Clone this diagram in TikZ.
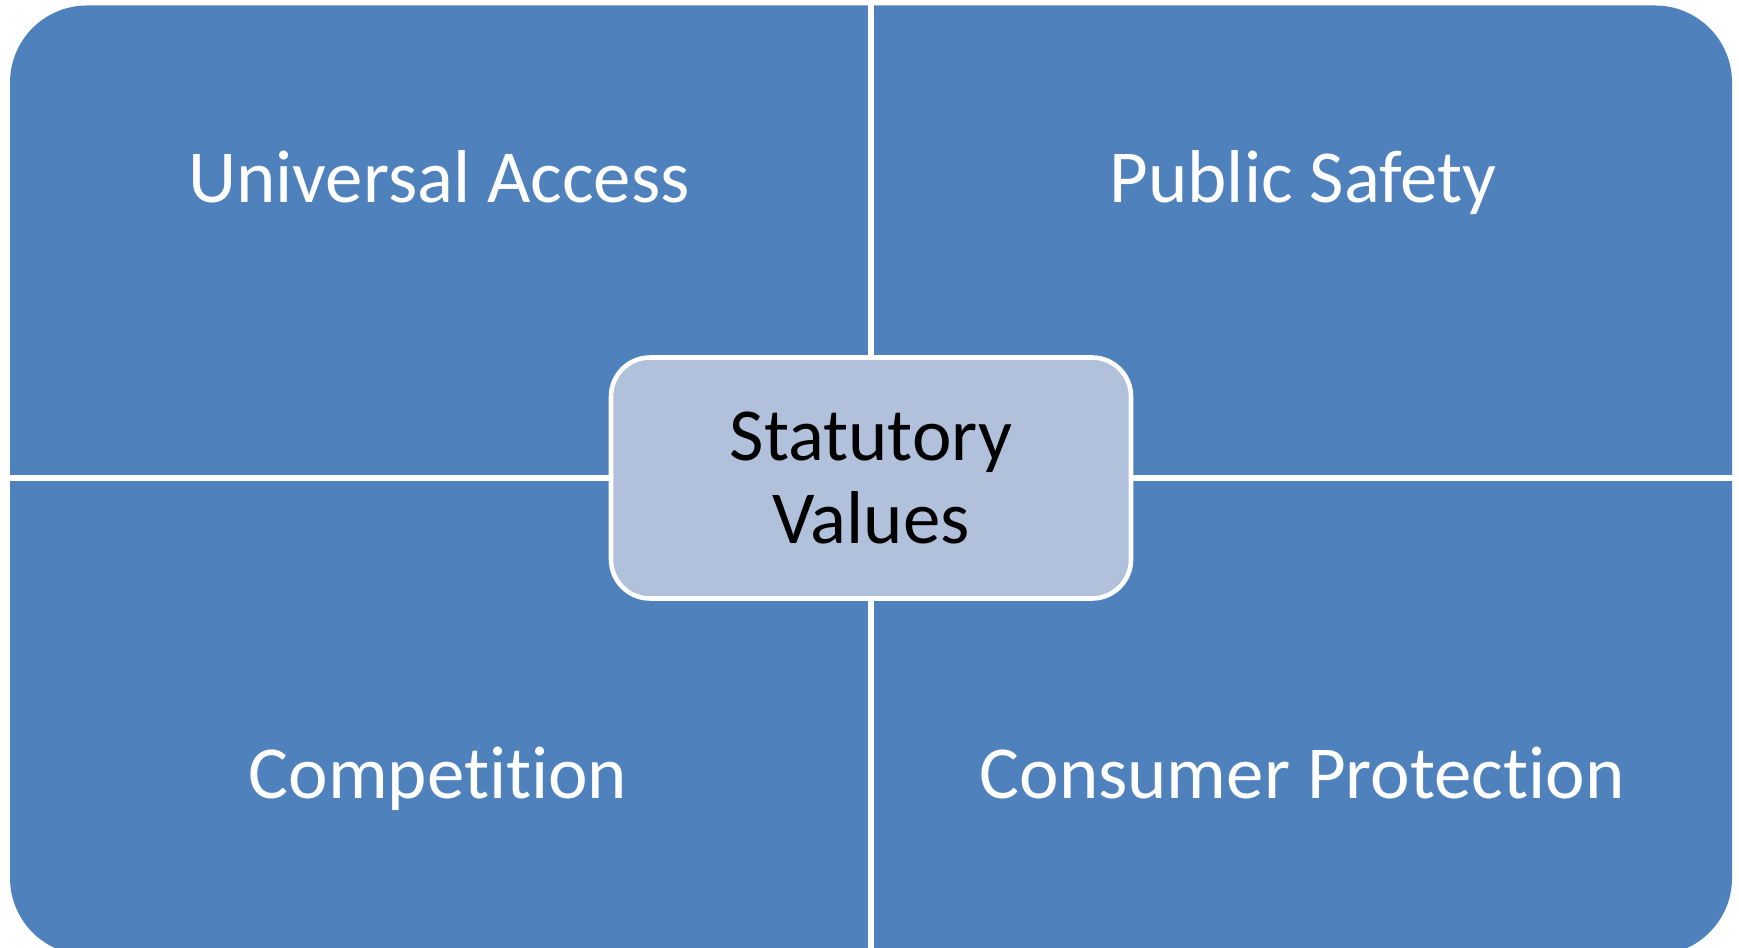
\documentclass[tikz,border=0pt]{standalone}
\usepackage{fontspec}
\setmainfont{Carlito}[Ligatures=NoCommon]
\usepackage{tikz}
\usetikzlibrary{positioning, calc}

\definecolor{quadblue}{RGB}{79,129,189}
\definecolor{centerfill}{RGB}{177,193,220}

\tikzset{
  quadtext/.style={text=white, anchor=base, font=\fontsize{21.3}{23.6}\selectfont},
  centerbox/.style={draw=white, line width=1.3pt, fill=centerfill, rounded corners=0.39cm,
    minimum width=5.2cm, minimum height=2.41cm, align=center, font=\fontsize{21.3}{23.6}\selectfont},
  gapline/.style={draw=white, line width=1.5pt}
}

\begin{document}
\begin{tikzpicture}
\useasboundingbox (0,0) rectangle (17.39,-9.48);
\clip (0,0) rectangle (17.39,-9.48);

% Blue matrix background
\fill[quadblue, rounded corners=0.77cm] (0.10,-0.055) rectangle (17.32,-9.55);

% White gaps between the quadrants
\coordinate (gtop) at (8.71,0.1);
\coordinate (gbottom) at (8.71,-9.6);
\coordinate (gleft) at (0,-4.78);
\coordinate (gright) at (17.4,-4.78);
\draw[gapline] (gtop) -- (gbottom);
\draw[gapline] (gleft) -- (gright);

% Quadrant labels (placed by baseline)
\node[quadtext] (access) at (4.39,-2.03) {Universal Access};
\node[quadtext] (safety) at (13.03,-2.03) {Public Safety};
\node[quadtext] (competition) at (4.38,-7.98) {Competition};
\node[quadtext] (protection) at (13.02,-7.98) {Consumer Protection};

% Center box
\node[centerbox] (values) at (8.71,-4.78) {Statutory\\Values};
\end{tikzpicture}
\end{document}
